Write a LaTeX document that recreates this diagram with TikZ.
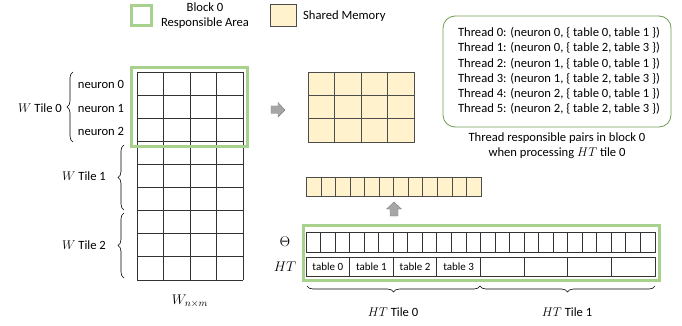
\RequirePackage{fix-cm}
\documentclass[tikz,border=0pt]{standalone}
\usepackage{fontspec}
\setmainfont{Carlito}
\usetikzlibrary{decorations.pathreplacing}
\definecolor{grn}{HTML}{A9D18E}
\definecolor{dgrn}{HTML}{6F9A50}
\definecolor{yel}{HTML}{FFF2CC}
\definecolor{gry}{HTML}{A6A6A6}
\tikzset{
  txt/.style={font=\fontsize{12.6}{15.2}\selectfont, inner sep=0pt},
  small/.style={font=\fontsize{11}{12}\selectfont, inner sep=0pt},
  gbox/.style={draw=grn, line width=3pt},
  grid/.style={draw=black!80, line width=0.8pt},
  ycell/.style={draw=black!70, fill=yel, line width=0.8pt},
  brc/.style={decorate, decoration={brace, amplitude=6pt}, draw=black, line width=0.6pt},
  garrow/.style={fill=gry, draw=gray, line width=0.4pt}
}
\begin{document}
\begin{tikzpicture}[x=1pt, y=-1pt]
\useasboundingbox (0,0) rectangle (682,326);
% legend
\node[gbox, minimum width=20pt, minimum height=20pt, inner sep=0pt] (lg) at (141.5,16) {};
\node[txt, align=center] (lgt) at (205,16) {Block 0\\Responsible Area};
\node[draw=black!70, fill=yel, line width=0.8pt, minimum width=26pt, minimum height=22pt, inner sep=0pt] (ly) at (283,15) {};
\node[txt, anchor=west] (lyt) at (303,16) {Shared Memory};
% W matrix
\fill[white] (137,72) rectangle (243,280);
\foreach \x in {137,163.5,190,216.5,243} \draw[grid] (\x,72) -- (\x,280);
\foreach \i in {0,...,9} \draw[grid] (137,72+23.11*\i) -- (243,72+23.11*\i);
\node[gbox, minimum width=116pt, minimum height=78pt, inner sep=0pt] (wg) at (189.5,107) {};
\node[inner sep=0pt, font=\fontsize{14}{16}\selectfont] (wl) at (190,301) {$W_{n\times m}$};
% neuron labels
\node[txt] (n0) at (101,84) {neuron 0};
\node[txt] (n1) at (101,108) {neuron 1};
\node[txt] (n2) at (101,131) {neuron 2};
\coordinate (b0a) at (73,142);
\coordinate (b0b) at (73,72);
\draw[brc] (b0a) -- (b0b);
\node[txt, anchor=east] (t0) at (62,108) {$W$ Tile 0};
\coordinate (b1a) at (124,210);
\coordinate (b1b) at (124,145);
\draw[brc] (b1a) -- (b1b);
\node[txt, anchor=east] (t1) at (106,176) {$W$ Tile 1};
\coordinate (b2a) at (124,278);
\coordinate (b2b) at (124,213);
\draw[brc] (b2a) -- (b2b);
\node[txt, anchor=east] (t2) at (106,245) {$W$ Tile 2};
% right arrow
\draw[garrow] (271,106) -- (278,106) -- (278,102.5) -- (285,110) -- (278,117) -- (278,113.5) -- (271,113.5) -- cycle;
% shared memory 3x4
\foreach \c in {0,...,3} \foreach \r in {0,...,2}
  \draw[ycell] (308+26.5*\c,72+23.33*\r) rectangle ++(26.5,23.33);
% thread box
\node[draw=dgrn, line width=0.8pt, rounded corners=12pt, minimum width=228pt, minimum height=111pt, inner sep=0pt] (tb) at (557,71.5) {};
\node[txt, align=left] (tt) at (559,71) {Thread 0: (neuron 0, \{ table 0, table 1 \})\\Thread 1: (neuron 0, \{ table 2, table 3 \})\\Thread 2: (neuron 1, \{ table 0, table 1 \})\\Thread 3: (neuron 1, \{ table 2, table 3 \})\\Thread 4: (neuron 2, \{ table 0, table 1 \})\\Thread 5: (neuron 2, \{ table 2, table 3 \})};
\node[txt, align=center] (cap) at (557,146) {Thread responsible pairs in block 0\\when processing $HT$ tile 0};
% long yellow row
\foreach \c in {0,...,11} \draw[ycell] (306.5+14.54*\c,177) rectangle ++(14.54,19.5);
% up arrow
\draw[garrow] (390,216) -- (390,209) -- (386.5,209) -- (394,202) -- (401.5,209) -- (398,209) -- (398,216) -- cycle;
% Theta and HT
\node[gbox, minimum width=356pt, minimum height=55pt, inner sep=0pt] (hg) at (481,253) {};
\fill[white] (306,232) rectangle (655,252);
\foreach \c in {0,...,23} \draw[grid] (306+14.54*\c,232) rectangle ++(14.54,20);
\fill[white] (306,257) rectangle (655,276.5);
\foreach \c in {0,...,7} \draw[grid] (306+43.625*\c,257) rectangle ++(43.625,19.5);
\foreach \c in {0,...,3} \node[small] (tab\c) at (306+43.625*\c+21.8,267) {table \c};
\node[inner sep=0pt, font=\fontsize{14}{16}\selectfont] (th) at (285,242) {$\Theta$};
\node[inner sep=0pt, font=\fontsize{14}{16}\selectfont] (ht) at (285,267) {$HT$};
% HT braces
\coordinate (h0a) at (480,286);
\coordinate (h0b) at (307,286);
\draw[brc] (h0a) -- (h0b);
\coordinate (h1a) at (655,286);
\coordinate (h1b) at (480,286);
\draw[brc] (h1a) -- (h1b);
\node[txt] (hl0) at (393,312) {$HT$ Tile 0};
\node[txt] (hl1) at (567,312) {$HT$ Tile 1};
\end{tikzpicture}
\end{document}
